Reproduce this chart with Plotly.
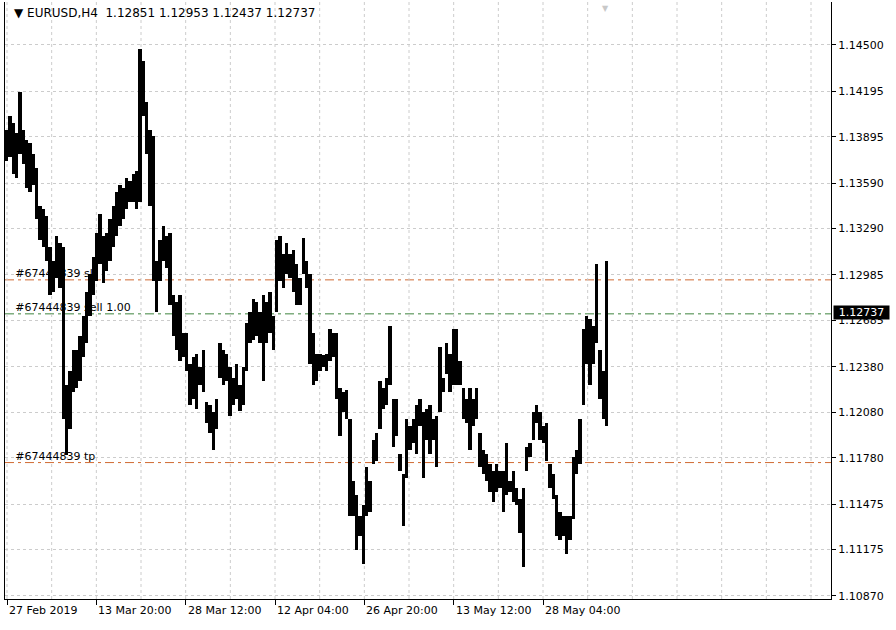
import plotly.graph_objects as go

# ---------------- data ----------------
title_text = "▼ EURUSD,H4  1.12851 1.12953 1.12437 1.12737"

highs = [
    # 27 Feb -> mid Mar
    1.13942, 1.14033, 1.13988, 1.13920, 1.14192, 1.13942, 1.13874, 1.13851, 1.13783, 1.13692,
    1.13442, 1.13420, 1.13374, 1.13170, 1.13079, 1.13238, 1.13193, 1.13170, 1.12261, 1.12352,
    1.12488, 1.12488, 1.12579, 1.12715, 1.12874, 1.12988, 1.13102, 1.13261, 1.13386, 1.13238,
    1.13261, 1.13352, 1.13442, 1.13533, 1.13579, 1.13556, 1.13624, 1.13601, 1.13647, 1.13670,
    1.14476, 1.14397, 1.14124, 1.13942, 1.13897,
    # mid Mar -> mid Apr
    1.13079, 1.13215, 1.13306, 1.13238, 1.13261, 1.12852, 1.12806, 1.12852, 1.12602, 1.12602,
    1.12397, 1.12443, 1.12466, 1.12375, 1.12488, 1.12147, 1.12125, 1.12079, 1.12170, 1.12534,
    1.12488, 1.12466, 1.12375, 1.12306, 1.12397, 1.12261, 1.12375, 1.12670, 1.12738, 1.12829,
    1.12806, 1.12738, 1.12852, 1.12806, 1.12874, 1.12715, 1.13215, 1.13238, 1.13124, 1.13193,
    1.13124, 1.13147, 1.13056, 1.12965, 1.13227,
    # mid Apr -> mid May
    1.13079, 1.12988, 1.12602, 1.12466, 1.12466, 1.12454, 1.12466, 1.12625, 1.12602, 1.12602,
    1.12238, 1.12216, 1.12227, 1.12034, 1.11625, 1.11534, 1.11398, 1.11466, 1.11716, 1.11625,
    1.11898, 1.11943, 1.12284, 1.12238, 1.12306, 1.12647, 1.12170, 1.12170, 1.11807, 1.11670,
    1.12034, 1.11988, 1.12034, 1.12125, 1.12170, 1.12079, 1.12102, 1.12125, 1.12034, 1.12057,
    1.12511, 1.12306, 1.12534, 1.12466, 1.12625,
    # mid May -> June
    1.12625, 1.12420, 1.12238, 1.12170, 1.12238, 1.12170, 1.12238, 1.11943, 1.11829, 1.11807,
    1.11738, 1.11693, 1.11738, 1.11693, 1.11693, 1.11875, 1.11625, 1.11693, 1.11579, 1.11511,
    1.11579, 1.11852, 1.11875, 1.12079, 1.12125, 1.12079, 1.11988, 1.12011, 1.11738, 1.11670,
    1.11534, 1.11420, 1.11398, 1.11398, 1.11398, 1.11784, 1.11829, 1.12034, 1.12625, 1.12715,
    1.12693, 1.12647, 1.13056, 1.12488, 1.12352, 1.13079,
]

lows = [
    1.13738, 1.13761, 1.13647, 1.13624, 1.13783, 1.13715, 1.13556, 1.13533, 1.13579, 1.13352,
    1.13215, 1.13170, 1.13079, 1.12852, 1.12874, 1.12965, 1.12897, 1.12034, 1.11795, 1.11966,
    1.12216, 1.12238, 1.12284, 1.12443, 1.12534, 1.12715, 1.12852, 1.12943, 1.13056, 1.12931,
    1.13011, 1.13079, 1.13170, 1.13238, 1.13306, 1.13352, 1.13420, 1.13465, 1.13465, 1.13420,
    1.13465, 1.14033, 1.13783, 1.13442, 1.12943,
    1.12738, 1.12943, 1.13079, 1.13033, 1.12784, 1.12579, 1.12488, 1.12420, 1.12443, 1.12352,
    1.12125, 1.12170, 1.12102, 1.12261, 1.12216, 1.12011, 1.11943, 1.11829, 1.11966, 1.12306,
    1.12261, 1.12284, 1.12057, 1.12125, 1.12170, 1.12091, 1.12125, 1.12352, 1.12534, 1.12556,
    1.12579, 1.12534, 1.12284, 1.12534, 1.12602, 1.12488, 1.12738, 1.12943, 1.12897, 1.12988,
    1.12965, 1.12874, 1.12784, 1.12784, 1.12988,
    1.12897, 1.12397, 1.12261, 1.12284, 1.12352, 1.12375, 1.12352, 1.12420, 1.12443, 1.12170,
    1.11920, 1.12079, 1.12034, 1.11398, 1.11398, 1.11170, 1.11261, 1.11079, 1.11398, 1.11420,
    1.11738, 1.11761, 1.11966, 1.12102, 1.12125, 1.12261, 1.11852, 1.11920, 1.11693, 1.11329,
    1.11648, 1.11829, 1.11875, 1.11807, 1.11988, 1.11648, 1.11898, 1.11807, 1.11898, 1.11716,
    1.12079, 1.12216, 1.12329, 1.12216, 1.12261,
    1.12261, 1.12261, 1.12034, 1.12011, 1.11829, 1.11988, 1.12034, 1.11716, 1.11670, 1.11625,
    1.11557, 1.11488, 1.11557, 1.11579, 1.11420, 1.11534, 1.11557, 1.11488, 1.11466, 1.11284,
    1.11057, 1.11693, 1.11784, 1.11898, 1.12011, 1.11898, 1.11875, 1.11761, 1.11579, 1.11511,
    1.11261, 1.11238, 1.11261, 1.11148, 1.11238, 1.11375, 1.11670, 1.11738, 1.12125, 1.12397,
    1.12261, 1.12397, 1.12534, 1.12170, 1.12034, 1.11988,
]

bar_index = list(range(len(highs)))

price_ticks = [1.14500, 1.14195, 1.13895, 1.13590, 1.13290, 1.12985, 1.12685,
               1.12380, 1.12080, 1.11780, 1.11475, 1.11175, 1.10870]
price_tick_text = ["1.14500", "1.14195", "1.13895", "1.13590", "1.13290", "1.12985", "1.12685",
                   "1.12380", "1.12080", "1.11780", "1.11475", "1.11175", "1.10870"]

date_labels = ["27 Feb 2019", "13 Mar 20:00", "28 Mar 12:00", "12 Apr 04:00",
               "26 Apr 20:00", "13 May 12:00", "28 May 04:00"]
date_label_pos = [0.1, 26.9, 53.7, 80.5, 107.3, 134.1, 160.9]

order_id = "#67444839"
sl_price = 1.12952
open_price = 1.12728
tp_price = 1.11748
current_price = 1.12737

# ---------------- styling ----------------
FONT = "DejaVu Sans"
ORANGE = "#D06A32"
GREEN = "#3E843E"
GRID = "#CCCCCC"
x_range = [-0.5, 247.3]
y_range = [1.10849, 1.14783]
grid_x = [0.1 + 13.4 * k for k in range(19)]

fig = go.Figure()

# order labels (drawn under the bars like in the terminal)
fig.add_trace(go.Scatter(
    x=[2.6, 2.6, 2.6],
    y=[sl_price, open_price, tp_price],
    mode="text",
    text=[f"{order_id} sl", f"{order_id} sell 1.00", f"{order_id} tp"],
    textposition="top right",
    textfont=dict(family=FONT, size=11, color="black"),
    hoverinfo="skip",
    showlegend=False,
))

# price bars (high-low)
fig.add_trace(go.Bar(
    x=bar_index,
    base=lows,
    y=[h - l for h, l in zip(highs, lows)],
    width=1.0,
    marker=dict(color="black", line=dict(width=0)),
    showlegend=False,
    hoverinfo="skip",
))

shapes = []
for price, col in [(sl_price, ORANGE), (open_price, GREEN), (tp_price, ORANGE)]:
    shapes.append(dict(type="line", xref="paper", x0=0, x1=1, yref="y", y0=price, y1=price,
                       line=dict(color=col, width=1, dash="9px,4px,3px,4px"), layer="below"))
# vertical dashed grid lines
for gx in grid_x:
    shapes.append(dict(type="line", xref="x", x0=gx, x1=gx, yref="paper", y0=0, y1=1,
                       line=dict(color=GRID, width=1, dash="3px,3px"), layer="below"))

annotations = [
    dict(xref="paper", yref="paper", x=0.0085, y=0.9816, xanchor="left", yanchor="middle",
         text=title_text, showarrow=False, font=dict(family=FONT, size=12, color="black")),
    dict(xref="paper", yref="y", x=1, y=current_price, xanchor="left", yanchor="middle",
         xshift=2, text=f"{current_price:.5f}", showarrow=False, bgcolor="black",
         width=55, height=13, borderpad=0,
         font=dict(family=FONT, size=11, color="white")),
    dict(xref="x", yref="paper", x=179.5, y=1.0, xanchor="center", yanchor="top",
         text="▼", showarrow=False, font=dict(family=FONT, size=8, color="#C8C8C8")),
]
for lbl, pos in zip(date_labels, date_label_pos):
    annotations.append(dict(xref="x", yref="paper", x=pos, y=-0.0185, xanchor="left",
                            yanchor="middle", xshift=0, text=lbl, showarrow=False,
                            font=dict(family=FONT, size=11, color="black")))

fig.update_layout(
    width=896, height=630,
    margin=dict(l=5, r=65, t=2, b=31),
    paper_bgcolor="white", plot_bgcolor="white",
    showlegend=False, hovermode=False, bargap=0,
    shapes=shapes, annotations=annotations,
    font=dict(family=FONT, size=11, color="black"),
)
fig.update_xaxes(
    range=x_range, showgrid=False, zeroline=False,
    showline=True, linecolor="black", linewidth=1, mirror=False,
    tickmode="array", tickvals=date_label_pos, ticks="outside", ticklen=5,
    tickcolor="black", showticklabels=False,
)
fig.update_yaxes(
    range=y_range, side="right", zeroline=False,
    showgrid=True, gridcolor=GRID, griddash="3px,3px", gridwidth=1,
    showline=True, linecolor="black", linewidth=1, mirror=True,
    tickmode="array", tickvals=price_ticks, ticktext=price_tick_text,
    ticks="outside", ticklen=4, tickcolor="black",
    tickfont=dict(family=FONT, size=11, color="black"),
)

fig.write_html(
    "out.html",
    config={"displayModeBar": False},
    post_script="document.body.style.margin='0';document.body.style.padding='0';",
)
